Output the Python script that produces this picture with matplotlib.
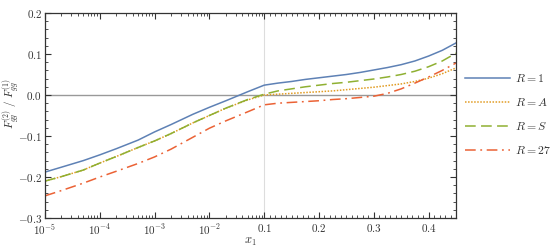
import numpy as np
import matplotlib
matplotlib.use("Agg")
import matplotlib.pyplot as plt
from matplotlib.ticker import FixedLocator, FixedFormatter

plt.rcParams['mathtext.fontset'] = 'cm'
plt.rcParams['font.family'] = ['DejaVu Serif']

# values
x1 = [1e-5, 2e-5, 5e-5, 1e-4, 2e-4, 5e-4, 1e-3, 2e-3, 5e-3, 1e-2, 2e-2, 5e-2,
      0.1, 0.125, 0.15, 0.175, 0.2, 0.225, 0.25, 0.275, 0.3, 0.325, 0.35,
      0.375, 0.4, 0.425, 0.45]
r_1 = [-0.188, -0.176, -0.160, -0.146, -0.131, -0.110, -0.090, -0.072, -0.047,
       -0.030, -0.014, 0.008,
       0.024, 0.029, 0.033, 0.038, 0.042, 0.046, 0.050, 0.055, 0.061, 0.067,
       0.074, 0.083, 0.095, 0.109, 0.127]
r_a = [-0.210, -0.199, -0.183, -0.166, -0.150, -0.128, -0.112, -0.094, -0.068,
       -0.050, -0.032, -0.012,
       0.000, 0.002, 0.004, 0.006, 0.008, 0.010, 0.013, 0.016, 0.019, 0.023,
       0.027, 0.033, 0.041, 0.052, 0.066]
r_s = [-0.210, -0.199, -0.183, -0.166, -0.150, -0.128, -0.112, -0.094, -0.068,
       -0.050, -0.032, -0.011,
       0.002, 0.010, 0.015, 0.020, 0.024, 0.028, 0.031, 0.035, 0.039, 0.044,
       0.050, 0.058, 0.069, 0.083, 0.102]
r_27 = [-0.246, -0.233, -0.215, -0.200, -0.186, -0.167, -0.151, -0.132, -0.103,
        -0.081, -0.063, -0.041,
        -0.024, -0.020, -0.018, -0.016, -0.014, -0.011, -0.009, -0.006, -0.003,
        0.004, 0.015, 0.029, 0.044, 0.060, 0.078]

labels = ['$R=1$', '$R=A$', '$R=S$', '$R=27$']
xticks = [1e-5, 1e-4, 1e-3, 1e-2, 0.1, 0.2, 0.3, 0.4]
xticklabels = ['$10^{-5}$', '$10^{-4}$', '$10^{-3}$', '$10^{-2}$',
               '$0.1$', '$0.2$', '$0.3$', '$0.4$']
yticks = [-0.3, -0.2, -0.1, 0.0, 0.1, 0.2]
yticklabels = ['$-0.3$', '$-0.2$', '$-0.1$', '$0.0$', '$0.1$', '$0.2$']


# log below 0.1, linear above (one decade = 0.1)
def fwd(x):
    x = np.asarray(x, dtype=float)
    return np.where(x <= 0.1, np.log10(np.maximum(x, 1e-300)), -1 + (x - 0.1) * 10)


def inv(u):
    u = np.asarray(u, dtype=float)
    return np.where(u <= -1, 10.0 ** np.minimum(u, 0), 0.1 + (u + 1) / 10)


fig = plt.figure(figsize=(5.5, 2.48), dpi=100)
ax = fig.add_axes([45 / 550, 30 / 248, 411 / 550, 205 / 248])
ax.set_xscale('function', functions=(fwd, inv))

ax.axhline(0, color='#999999', lw=1.0, zorder=1)
ax.axvline(0.1, color='#dddddd', lw=0.8, zorder=1)

ax.plot(x1, r_1, color='#5E81B5', lw=1.1, label=labels[0])
ax.plot(x1, r_a, color='#E19C24', lw=1.1, ls=(0, (1, 1)), label=labels[1])
ax.plot(x1, r_s, color='#8FB032', lw=1.1, ls=(0, (7, 3.5)), label=labels[2])
ax.plot(x1, r_27, color='#EB6235', lw=1.1, ls=(0, (7, 3, 1.2, 3)), label=labels[3])

ax.set_xlim(1e-5, 0.45)
ax.set_ylim(-0.3, 0.2)

minor_x = [m * 10.0 ** k for k in range(-5, -1) for m in range(2, 10)]
minor_x += [round(0.1 + 0.01 * i, 2) for i in range(1, 36) if i % 10 != 0]
ax.xaxis.set_major_locator(FixedLocator(xticks))
ax.xaxis.set_major_formatter(FixedFormatter(xticklabels))
ax.xaxis.set_minor_locator(FixedLocator(minor_x))
ax.yaxis.set_major_locator(FixedLocator(yticks))
ax.yaxis.set_major_formatter(FixedFormatter(yticklabels))
ax.yaxis.set_minor_locator(FixedLocator(np.arange(-0.3, 0.2001, 0.02)))

ax.tick_params(which='both', direction='in', top=True, right=True,
               color='#333333', labelsize=8, labelcolor='#333333')
ax.tick_params(which='major', length=4, width=0.8)
ax.tick_params(axis='x', which='major', pad=3)
ax.tick_params(axis='y', which='major', pad=2)
ax.tick_params(which='minor', length=2, width=0.6)
for s in ax.spines.values():
    s.set_color('#333333')
    s.set_linewidth(0.9)

ax.set_xlabel('$x_1$', fontsize=9, color='#333333')
ax.xaxis.set_label_coords(0.5, -0.085)
ax.set_ylabel(r'$F^{(2)}_{gg}\ /\ F^{(1)}_{gg}$', fontsize=8, color='#333333')
ax.yaxis.set_label_coords(-0.055, 0.56)

leg = ax.legend(loc='center left', bbox_to_anchor=(1.022, 0.505), frameon=False,
                fontsize=8.5, handlelength=3.8, handletextpad=0.45, labelspacing=0.95,
                borderaxespad=0, borderpad=0)
for t in leg.get_texts():
    t.set_color('#333333')

fig.savefig('out.png', dpi=100)
